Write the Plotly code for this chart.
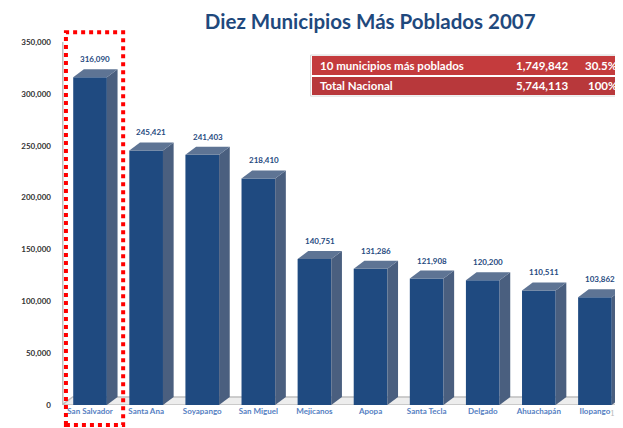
import plotly.graph_objects as go

# ---- data ----
municipios = ["San Salvador", "Santa Ana", "Soyapango", "San Miguel", "Mejicanos",
              "Apopa", "Santa Tecla", "Delgado", "Ahuachapán", "Ilopango"]
poblacion = [316090, 245421, 241403, 218410, 140751, 131286, 121908, 120200, 110511, 103862]
y_ticks = [0, 50000, 100000, 150000, 200000, 250000, 300000, 350000]
tabla_etiquetas = ["10 municipios más poblados", "Total Nacional"]
tabla_valores = ["1,749,842", "5,744,113"]
tabla_porcentajes = ["30.5%", "100%"]

# ---- style ----
FRONT = "#1F4A80"
SIDE = "#4A5F7F"
TOP = "#5E7494"
BW = 0.6          # bar width (category units)
DX = 0.19         # 3D depth, x (category units)
DY = 7700         # 3D depth, y (value units)
YMAX = 350000

idx = list(range(len(municipios)))

fig = go.Figure()
fig.add_trace(go.Bar(x=idx, y=poblacion, width=BW, marker=dict(color=FRONT, line=dict(width=0)),
                     hoverinfo="x+y", showlegend=False))

shapes = []
# floor
shapes.append(dict(type="path", xref="x", yref="y",
                   path=f"M -0.5 0 L 9.6 0 L 9.6 {DY} L {-0.5+DX} {DY} Z",
                   fillcolor="#EDEDED", line=dict(color="#BFBFBF", width=1.5), layer="below"))
# left wall line
shapes.append(dict(type="line", xref="x", yref="y", x0=-0.5, x1=-0.5, y0=0, y1=YMAX,
                   line=dict(color="#BFBFBF", width=3), layer="below"))

annotations = []
for i, v in zip(idx, poblacion):
    x0, x1 = i - BW / 2, i + BW / 2
    # side face
    shapes.append(dict(type="path", xref="x", yref="y",
                       path=f"M {x1} 0 L {x1} {v} L {x1+DX} {v+DY} L {x1+DX} {DY} Z",
                       fillcolor=SIDE, line=dict(width=0)))
    # top face
    shapes.append(dict(type="path", xref="x", yref="y",
                       path=f"M {x0} {v} L {x1} {v} L {x1+DX} {v+DY} L {x0+DX} {v+DY} Z",
                       fillcolor=TOP, line=dict(width=0)))
    annotations.append(dict(x=i + DX / 2, y=v + DY, xref="x", yref="y",
                            text=f"<b>{v:,}</b>", showarrow=False, yanchor="bottom", yshift=3,
                            font=dict(family="Lato", size=8, color="#1F4A80")))

# red dotted highlight around the first bar
shapes.append(dict(type="rect", xref="x", yref="paper", x0=idx[0] - 0.43, x1=idx[0] + 0.59,
                   y0=-0.055, y1=1.027, line=dict(color="#FF0000", width=4, dash="dot")))

# summary table (top right)
row_y = [(0.9614, 0.9091), (0.9036, 0.854)]
row_fill = ["#C43B3D", "#B8383B"]
shapes.append(dict(type="rect", xref="paper", yref="paper", x0=0.443, x1=1.0,
                   y0=0.851, y1=0.964, line=dict(color="#D9D9D9", width=1), fillcolor="white"))
for k, (lab, val, pct) in enumerate(zip(tabla_etiquetas, tabla_valores, tabla_porcentajes)):
    ya, yb = row_y[k]
    shapes.append(dict(type="rect", xref="paper", yref="paper", x0=0.4456, x1=0.998,
                       y0=yb, y1=ya, line=dict(width=0), fillcolor=row_fill[k]))
    ym = (ya + yb) / 2
    annotations.append(dict(x=0.456, y=ym, xref="paper", yref="paper", text=f"<b>{lab}</b>",
                            showarrow=False, xanchor="left", yanchor="middle",
                            font=dict(family="Lato", size=11.5, color="white")))
    annotations.append(dict(x=0.906, y=ym, xref="paper", yref="paper", text=f"<b>{val}</b>",
                            showarrow=False, xanchor="right", yanchor="middle",
                            font=dict(family="Lato", size=11.5, color="white")))
    annotations.append(dict(x=0.993, y=ym, xref="paper", yref="paper", text=f"<b>{pct}</b>",
                            showarrow=False, xanchor="right", yanchor="middle",
                            font=dict(family="Lato", size=11.5, color="white")))

# page number
annotations.append(dict(x=0.999, y=-0.04, xref="paper", yref="paper", text="11", showarrow=False,
                        xanchor="right", font=dict(family="DejaVu Serif", size=8, color="#BBBBBB")))

# page body has an 8px margin: figure is 615x420, placed at (8, 8)
fig.update_layout(
    width=615, height=420,
    margin=dict(l=54, r=0, t=34, b=23, autoexpand=False),
    paper_bgcolor="white", plot_bgcolor="white",
    title=dict(text="<b>Diez Municipios Más Poblados 2007</b>", x=0.589, xanchor="center",
               y=0.985, yanchor="top", yref="container",
               font=dict(family="Lato", size=20.5, color="#1F497D")),
    xaxis=dict(range=[-0.5, 9.5], tickvals=idx, ticktext=[f"<b>{m}</b>" for m in municipios],
               tickfont=dict(family="Lato", size=8, color="#5580C2"), showgrid=False,
               zeroline=False, showline=False, ticks="", ticklen=0, automargin=False),
    yaxis=dict(range=[0, YMAX], tickvals=y_ticks, ticktext=[f"<b>{t:,}</b>" for t in y_ticks],
               showgrid=False, zeroline=False, showline=False, ticks="", ticklabelstandoff=10,
               automargin=False, tickfont=dict(family="Lato", size=8, color="#333333")),
    shapes=shapes, annotations=annotations, bargap=0.4,
)

fig.write_html("out.html")
